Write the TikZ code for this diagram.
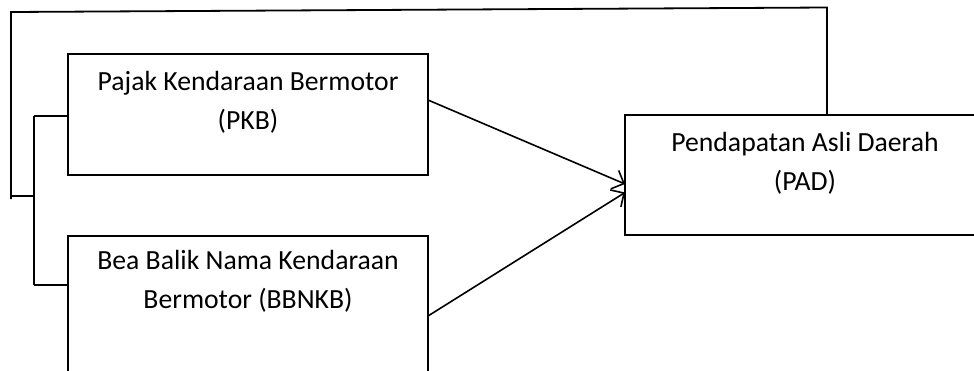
\documentclass[tikz,border=0pt]{standalone}
\usepackage{fontspec}
\setmainfont{Carlito}
\usetikzlibrary{arrows.meta,calc}
\begin{document}
\begin{tikzpicture}[x=1pt,y=-1pt,
  line width=1.8pt,
  box/.style={draw,rectangle,inner sep=0pt,outer sep=0pt},
  lbl/.style={align=center,inner sep=0pt,anchor=base,
    font=\fontsize{27.7}{39}\selectfont},
  arr/.style={-{Straight Barb[length=10pt,width=20pt,line width=1.6pt]}}]
\clip (0,0) rectangle (974,370);
\fill[white] (0,0) rectangle (974,370);

% variable boxes
\node[box,minimum width=360pt,minimum height=121pt] (pkb) at (248,114.5) {};
\node[box,minimum width=360pt,minimum height=170pt] (bbnkb) at (248,321) {};
\node[box,minimum width=360pt,minimum height=120pt] (pad) at (805,175) {};

% box texts
\node[lbl] (tpkb) at (248,129) {Pajak Kendaraan Bermotor\\(PKB)};
\node[lbl] (tbbnkb) at (248,308) {Bea Balik Nama Kendaraan\\Bermotor (BBNKB)};
\node[lbl] (tpad) at (805,190) {Pendapatan Asli Daerah\\(PAD)};

% influence arrows
\draw[arr,line width=1.6pt] ($(pkb.north east)+(0,46)$) -- ($(pad.west)+(0,9)$);
\draw[arr,line width=1.6pt] ($(bbnkb.north east)+(0,80)$) -- ($(pad.west)+(0,17.5)$);

% bracket joining the two independent variables
\coordinate (jn) at (34,196);
\coordinate (jt) at ($(pkb.north west)+(0,62)$);
\coordinate (jb) at ($(bbnkb.north west)+(0,49)$);
\draw (jt -| jn) -- (jb -| jn);
\draw (jt -| jn) -- (jt);
\draw (jb -| jn) -- (jb);

% feedback line from PAD back to the bracket
\coordinate (fbR) at (827,7.5);
\coordinate (fbL) at (11,12);
\coordinate (fbB) at (11,199);
\draw (pad.north west -| fbR) -- (fbR) -- (fbL) -- (fbB);
\draw (fbL |- jn) -- (jn);
\end{tikzpicture}
\end{document}
